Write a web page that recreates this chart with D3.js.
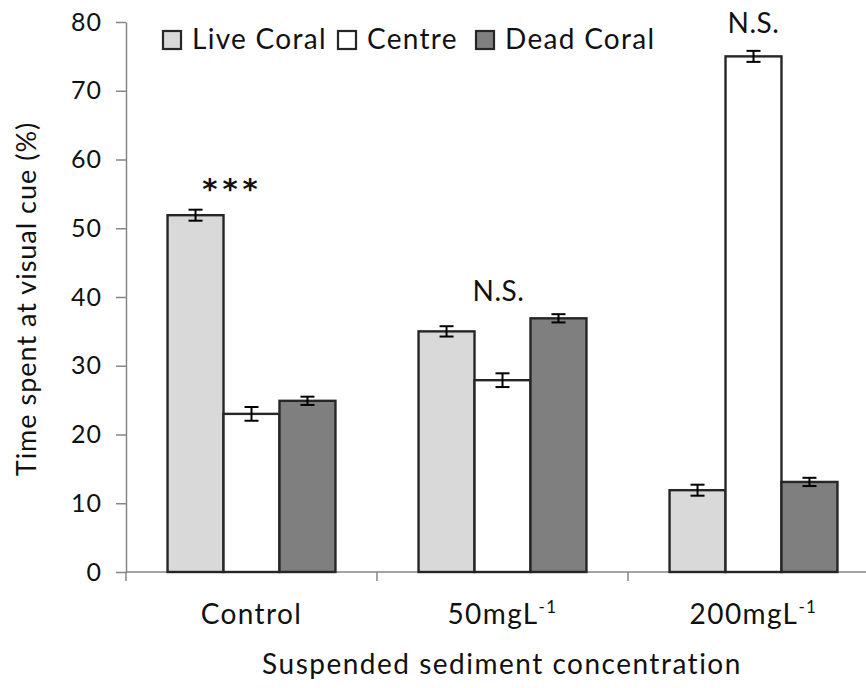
<!DOCTYPE html>
<html>
<head>
<meta charset="utf-8">
<script src="https://cdn.jsdelivr.net/npm/d3@7"></script>
<style>
  html, body { margin: 0; padding: 0; background: #fff; }
  svg { display: block; }
  text { font-family: Lato, "Open Sans", sans-serif; fill: #111; }
</style>
</head>
<body>
<svg id="chart" width="866" height="688"></svg>
<script>
// ---- data ----
const categories = ["Control", "50mgL", "200mgL"];
const categorySup = ["", "-1", "-1"];
const seriesNames = ["Live Coral", "Centre", "Dead Coral"];
const liveCoral = [51.9, 35.0, 11.9];
const centre = [23.0, 27.9, 75.0];
const deadCoral = [24.9, 36.9, 13.1];
const liveCoralErr = [0.8, 0.75, 0.8];
const centreErr = [1.0, 1.0, 0.8];
const deadCoralErr = [0.6, 0.6, 0.6];
const yTicks = [0, 10, 20, 30, 40, 50, 60, 70, 80];
const annotationText = ["***", "N.S.", "N.S."];
const annotationLevel = [54.2, 39.4, 78.4];
const seriesColors = ["#d9d9d9", "#ffffff", "#7f7f7f"];

const yLabel = "Time spent at visual cue (%)";
const xLabel = "Suspended sediment concentration";

// ---- layout ----
const svg = d3.select("#chart");
const mLeft = 126, mRight = 879, mTop = 22, mBottom = 572;
const annotationDx = [-19, -4, 0];

const x = d3.scaleBand().domain(categories).range([mLeft, mRight])
  .paddingInner(0.331).paddingOuter(0.1655);
const xs = d3.scaleBand().domain(seriesNames).range([0, x.bandwidth()]).padding(0);
const y = d3.scaleLinear().domain([0, 80]).range([mBottom, mTop]);

const values = [liveCoral, centre, deadCoral];
const errs = [liveCoralErr, centreErr, deadCoralErr];
const rows = [];
categories.forEach((c, i) => seriesNames.forEach((s, j) => {
  rows.push({cat: c, ser: s, v: values[j][i], e: errs[j][i], color: seriesColors[j]});
}));

// ---- axes ----
const axisColor = "#868686";
const yAxis = d3.axisLeft(y).tickValues(yTicks).tickSize(10).tickPadding(14).tickSizeOuter(0);
const gy = svg.append("g").attr("transform", `translate(${mLeft},0)`).call(yAxis);
gy.select(".domain").attr("stroke", axisColor).attr("stroke-width", 1.5);
gy.selectAll(".tick line").attr("stroke", axisColor).attr("stroke-width", 1.5);
gy.selectAll(".tick text").style("font-size", "25px").attr("fill", "#111")
  .style("letter-spacing", "1px")
  .style("font-family", "Lato, 'Open Sans', sans-serif");

// x axis line + boundary ticks
svg.append("line").attr("x1", mLeft).attr("x2", mRight).attr("y1", mBottom).attr("y2", mBottom)
  .attr("stroke", axisColor).attr("stroke-width", 1.5);
const bounds = categories.map((c, i) => mLeft + i * x.step()).concat([mLeft + categories.length * x.step()]);
svg.selectAll(".xb").data(bounds).join("line")
  .attr("x1", d => d).attr("x2", d => d).attr("y1", mBottom).attr("y2", mBottom + 9)
  .attr("stroke", axisColor).attr("stroke-width", 1.5);

// category labels
const catLbl = svg.selectAll(".cat").data(categories).join("text")
  .attr("x", d => x(d) + x.bandwidth() / 2).attr("y", 624)
  .attr("text-anchor", "middle").style("font-size", "28px").style("letter-spacing", "1.4px");
catLbl.append("tspan").text(d => d);
catLbl.append("tspan").attr("dy", -11).style("font-size", "17px")
  .text((d, i) => categorySup[i]);

// ---- bars ----
svg.selectAll(".bar").data(rows).join("rect")
  .attr("x", d => x(d.cat) + xs(d.ser))
  .attr("y", d => y(d.v))
  .attr("width", xs.bandwidth())
  .attr("height", d => y(0) - y(d.v))
  .attr("fill", d => d.color)
  .attr("stroke", "#262626").attr("stroke-width", 2.4);

// error bars
const eb = svg.selectAll(".eb").data(rows).join("g")
  .attr("transform", d => `translate(${x(d.cat) + xs(d.ser) + xs.bandwidth() / 2},0)`);
eb.append("line").attr("y1", d => y(d.v + d.e)).attr("y2", d => y(d.v - d.e))
  .attr("stroke", "#000").attr("stroke-width", 2);
eb.append("line").attr("x1", -7).attr("x2", 7).attr("y1", d => y(d.v + d.e)).attr("y2", d => y(d.v + d.e))
  .attr("stroke", "#000").attr("stroke-width", 2);
eb.append("line").attr("x1", -7).attr("x2", 7).attr("y1", d => y(d.v - d.e)).attr("y2", d => y(d.v - d.e))
  .attr("stroke", "#000").attr("stroke-width", 2);

// annotations
svg.selectAll(".ann").data(categories).join("text")
  .attr("x", (d, i) => x(d) + x.bandwidth() / 2 + annotationDx[i])
  .attr("y", (d, i) => y(annotationLevel[i]))
  .attr("text-anchor", "middle")
  .style("font-family", (d, i) => annotationText[i] === "***" ? "'DejaVu Sans', sans-serif" : null)
  .style("font-weight", (d, i) => annotationText[i] === "***" ? "bold" : null)
  .style("font-size", (d, i) => annotationText[i] === "***" ? "29px" : "28px")
  .style("letter-spacing", (d, i) => annotationText[i] === "***" ? "5px" : "0.5px")
  .text((d, i) => annotationText[i]);

// ---- legend ----
const legendX = [163, 338, 476];
const lg = svg.selectAll(".lg").data(seriesNames).join("g")
  .attr("transform", (d, i) => `translate(${legendX[i]},31)`);
lg.append("rect").attr("width", 18).attr("height", 18)
  .attr("fill", (d, i) => seriesColors[i]).attr("stroke", "#262626").attr("stroke-width", 2.2);
lg.append("text").attr("x", 29).attr("y", 18).style("font-size", "28px")
  .style("letter-spacing", "1.3px").text(d => d);

// axis titles
svg.append("text").attr("transform", `translate(36,${(mTop + mBottom) / 2 + 2}) rotate(-90)`)
  .attr("text-anchor", "middle").style("font-size", "27px").style("letter-spacing", "1px").text(yLabel);
svg.append("text").attr("x", 502).attr("y", 674).attr("text-anchor", "middle")
  .style("font-size", "28px").style("letter-spacing", "1.5px").text(xLabel);
</script>
</body>
</html>
